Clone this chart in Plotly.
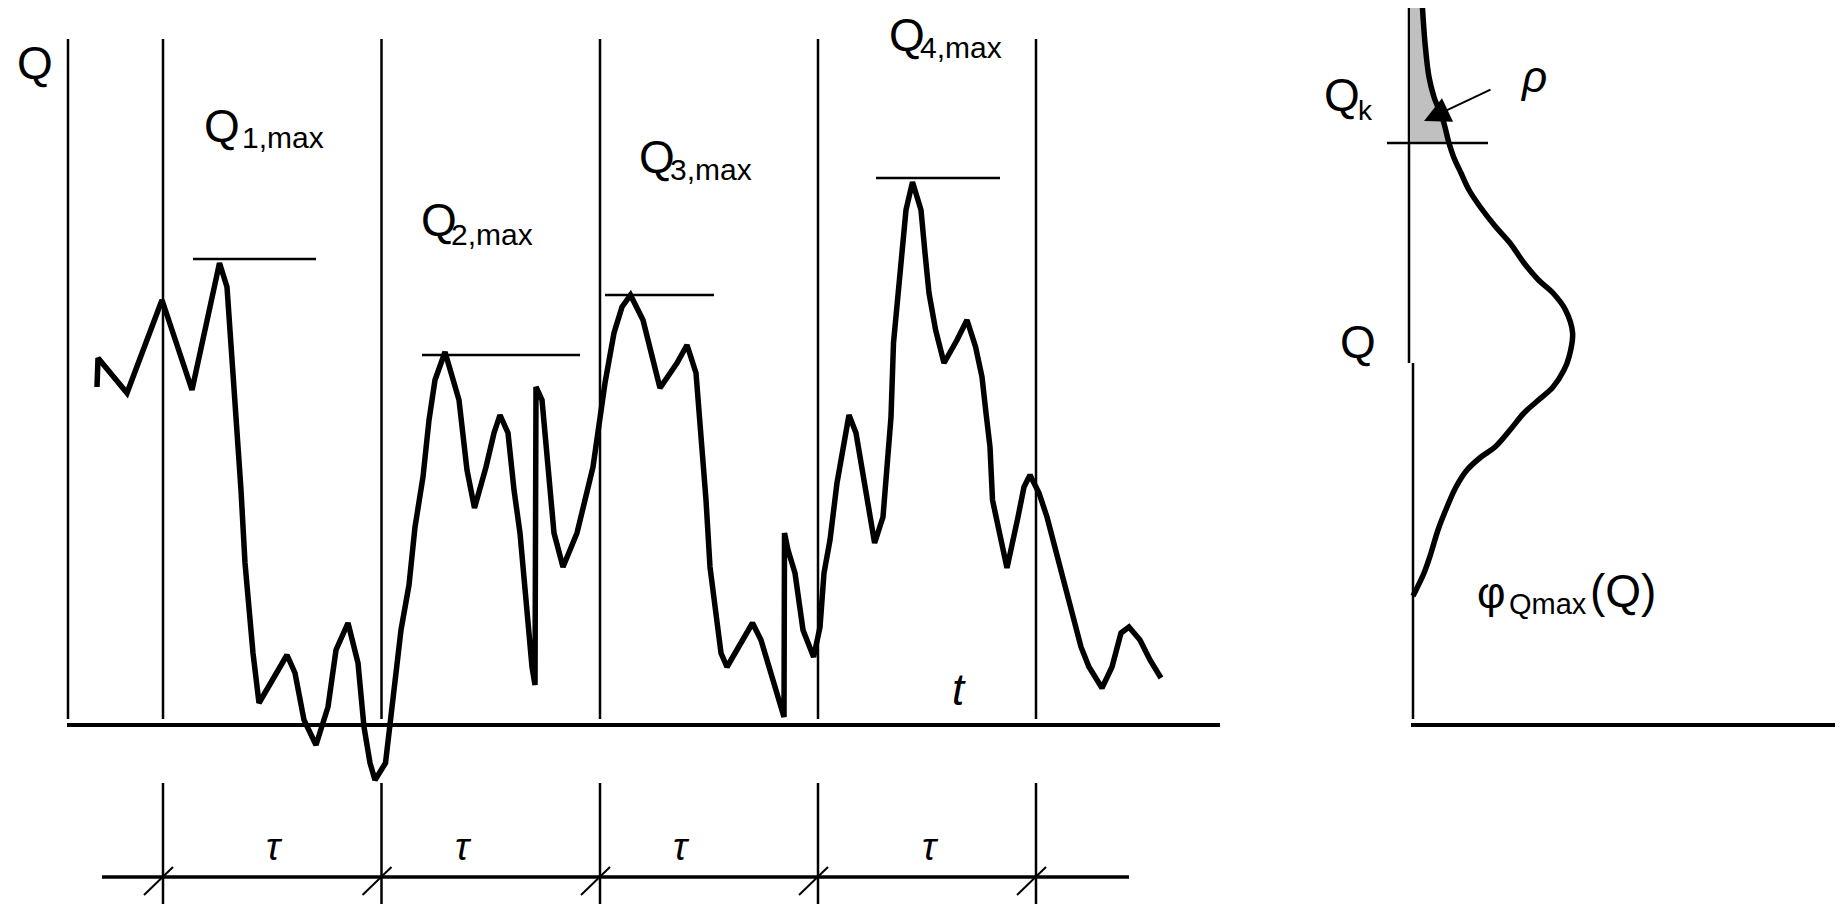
import plotly.graph_objects as go

W, H = 1843, 904
OFF = 8  # default page body margin
FONT = "Liberation Sans"

# ---- main process Q(t) (schematic units) ----
t_vals = [97, 98, 127, 162, 192, 219.5, 227, 233, 241, 245, 249, 253, 259, 287, 295, 304, 316, 328, 336, 348,
          358, 364, 370, 375, 385.5, 393, 401, 409, 415, 423, 429, 435, 445, 459, 467, 474.5, 486, 494, 500, 508,
          514, 520, 526, 532, 535, 536, 542, 548, 554, 563, 577, 585, 593, 605, 614, 622, 630.5, 643, 651.5, 660,
          677, 687, 696, 702, 706, 710, 715, 721, 727, 752.5, 761, 767, 776, 784, 784.5, 788, 795, 799, 803, 813.6,
          820, 824, 830, 837, 843, 849, 856, 862, 868, 874.6, 883, 887, 891, 893.5, 898, 902, 906, 912.5, 921, 925,
          929, 935.6, 944, 957, 967, 975.6, 982, 986, 990, 992.5, 999, 1007, 1018, 1024, 1030, 1039, 1047, 1055.6,
          1064, 1072, 1081, 1089, 1102, 1112, 1121, 1129, 1140, 1150, 1161]
q_vals = [387, 358, 393, 300, 390, 263, 287, 370, 490, 563, 607, 653, 703, 655, 673, 720, 745, 707, 650, 623,
          663, 727, 763, 780, 763, 693, 630, 585, 527, 477, 420, 380, 352, 400, 470, 508, 467, 433, 415, 433,
          490, 533, 600, 667, 685, 387, 400, 470, 533, 567, 533, 500, 467, 383, 333, 307, 295, 320, 353, 388,
          363, 345, 373, 443, 500, 567, 607, 653, 667, 623, 640, 660, 690, 717, 533, 550, 573, 607, 630, 657,
          627, 573, 540, 483, 450, 415, 433, 467, 500, 543, 517, 467, 417, 343, 293, 240, 210, 182, 210, 253,
          293, 330, 363, 340, 320, 347, 377, 413, 447, 500, 533, 568, 517, 487, 475, 493, 517, 550,
          583, 617, 647, 667, 688, 667, 633, 627, 640, 660, 678]

# period boundaries and labels
period_t = [163, 381.5, 600, 818, 1036]
tau_label_t = [274, 463, 681, 930]

# period maxima
max_levels = [259, 355, 295, 178]
max_t_start = [193, 422, 605, 876]
max_t_end = [316, 580, 714, 1000]
max_index = ["1", "2", "3", "4"]
max_q_left = [202, 419, 637, 887]
max_q_base = [142, 236, 173, 51]
max_sub_left = [240, 449, 668, 918]
max_sub_base = [148, 245, 180, 58]

# ---- distribution of maxima phi(Q) ----
pdf_x = [1422, 1425, 1429, 1434, 1443, 1449, 1454, 1461, 1469, 1481, 1495, 1510, 1524, 1538.5, 1553, 1565.5,
         1572.6, 1569, 1564, 1553, 1538.5, 1524, 1510, 1495, 1481, 1467, 1456, 1447, 1438, 1431, 1424, 1416, 1413]
pdf_q = [0, 43, 77, 97, 120, 143, 158, 173, 190, 208, 226, 243, 263, 280, 293, 310,
         333, 357, 370, 387, 400, 413, 430, 447, 457, 470, 487, 507, 530, 553, 573, 590, 596]
Qk_level = 143
pdf_axis_x = 1411

fig = go.Figure()

# shaded exceedance area above Qk
sx = [pdf_axis_x, 1423]
sy = [8, 8]
for x, y in zip(pdf_x, pdf_q):
    if 8 < y <= Qk_level:
        sx.append(x)
        sy.append(y)
sx += [pdf_axis_x]
sy += [Qk_level]
fig.add_trace(go.Scatter(x=sx, y=sy, fill="toself", fillcolor="#c0c0c0", mode="lines",
                         line=dict(width=0, color="#c0c0c0"), hoverinfo="skip"))

fig.add_trace(go.Scatter(x=t_vals, y=q_vals, mode="lines",
                         line=dict(color="black", width=5.5), hoverinfo="skip"))
fig.add_trace(go.Scatter(x=pdf_x, y=pdf_q, mode="lines", line_shape="spline",
                         line=dict(color="black", width=5.5), hoverinfo="skip"))

shapes = []
def seg(x0, y0, x1, y1, w=2.5):
    shapes.append(dict(type="line", xref="x", yref="y", x0=x0, y0=y0, x1=x1, y1=y1,
                       line=dict(color="black", width=w)))

# left panel axes
seg(68, 39, 68, 719)
seg(67, 725, 1220, 725, 4)
for x in period_t:
    seg(x, 39, x, 719)
    seg(x, 783, x, 904)
    seg(x - 19, 895, x + 10, 867, 2)
seg(102, 877, 1129, 877, 3.5)
for y, a, b in zip(max_levels, max_t_start, max_t_end):
    seg(a, y, b, y)

# right panel axes
seg(1409, 4, 1409, 363)
seg(1413, 363, 1413, 719)
seg(1411, 725, 1843, 725, 4)
seg(1387, Qk_level, 1488, Qk_level)

ann = []
def txt(x, y_base, s, size, anchor="left", italic=False):
    t = "<i>%s</i>" % s if italic else s
    ann.append(dict(x=x, y=y_base - 0.35 * size, xref="x", yref="y", text=t, showarrow=False,
                    xanchor=anchor, yanchor="middle", font=dict(family=FONT, size=size, color="black")))

txt(15, 79, "Q", 46)
for i in range(4):
    txt(max_q_left[i], max_q_base[i], "Q", 46)
    txt(max_sub_left[i], max_sub_base[i], max_index[i] + ",max", 30)
for x in tau_label_t:
    txt(x, 860, "τ", 38, anchor="center", italic=True)
txt(959, 705, "t", 44, anchor="center", italic=True)
txt(1322, 111, "Q", 46)
txt(1356, 120, "k", 28)
txt(1338, 358, "Q", 46)
txt(1518, 92, "ρ", 44, italic=True)
txt(1475, 608, "φ", 44)
txt(1507, 614, "Qmax", 29)
txt(1588, 607, "(Q)", 46)

# arrow to shaded probability area
ann.append(dict(x=1424, y=121, ax=1492, ay=89, xref="x", yref="y", axref="x", ayref="y",
                text="", showarrow=True, arrowhead=2, arrowsize=2.6, arrowwidth=2, arrowcolor="black"))

fig.update_layout(
    width=W - OFF, height=H - OFF, margin=dict(l=0, r=0, t=0, b=0),
    paper_bgcolor="white", plot_bgcolor="white", showlegend=False,
    xaxis=dict(range=[OFF, W], visible=False, fixedrange=True),
    yaxis=dict(range=[H, OFF], visible=False, fixedrange=True),
    shapes=shapes, annotations=ann,
)
fig.write_html("out.html")
